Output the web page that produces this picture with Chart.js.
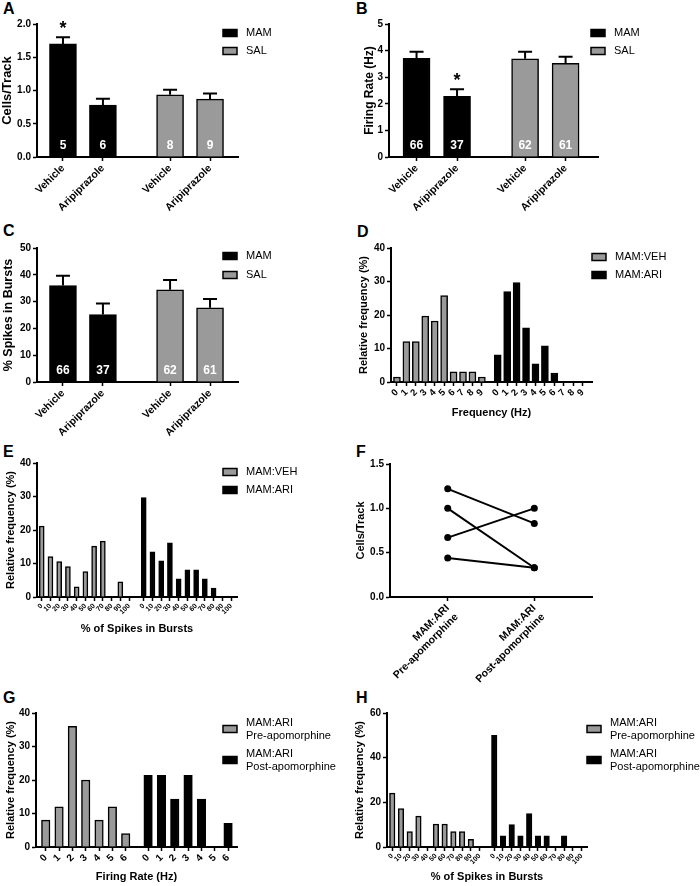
<!DOCTYPE html>
<html>
<head>
<meta charset="utf-8">
<script src="https://cdn.jsdelivr.net/npm/chart.js@4.4.1/dist/chart.umd.min.js"></script>
<style>
  body { margin: 0; background: #fff; width: 700px; height: 886px; position: relative; overflow: hidden; font-family: "Liberation Sans", Arial, sans-serif; }
  canvas { position: absolute; }
  .tag { position: absolute; font-weight: bold; font-size: 16px; line-height: 1; }
</style>
</head>
<body>
<div class="tag" style="left:3px;top:1px">A</div>
<div class="tag" style="left:356px;top:1px">B</div>
<div class="tag" style="left:3px;top:223px">C</div>
<div class="tag" style="left:357px;top:224px">D</div>
<div class="tag" style="left:3px;top:444px">E</div>
<div class="tag" style="left:356px;top:444px">F</div>
<div class="tag" style="left:3px;top:690px">G</div>
<div class="tag" style="left:356px;top:690px">H</div>

<canvas id="chartA" width="350" height="220" style="left:0;top:0"></canvas>
<canvas id="chartB" width="350" height="220" style="left:350px;top:0"></canvas>
<canvas id="chartC" width="350" height="220" style="left:0;top:220px"></canvas>
<canvas id="chartD" width="350" height="220" style="left:350px;top:220px"></canvas>
<canvas id="chartE" width="350" height="220" style="left:0;top:440px"></canvas>
<canvas id="chartF" width="350" height="250" style="left:350px;top:440px"></canvas>
<canvas id="chartG" width="350" height="226" style="left:0;top:660px"></canvas>
<canvas id="chartH" width="350" height="226" style="left:350px;top:660px"></canvas>

<script>
const FONT = '"Liberation Sans", Arial, sans-serif';
const BLACK = '#000000';
const GREY = '#9a9a9a';
const GROUP_GAP = 0.68;

// A-C: group means
const treatments = ['Vehicle', 'Aripiprazole'];
const cellsMAM = [1.70, 0.78];
const cellsMAMErr = [0.10, 0.095];
const cellsSAL = [0.935, 0.87];
const cellsSALErr = [0.075, 0.085];
const cellsMAMn = [5, 6];
const cellsSALn = [8, 9];
const cellsMAMsig = ['*', ''];

const rateMAM = [3.71, 2.28];
const rateMAMErr = [0.25, 0.27];
const rateSAL = [3.69, 3.52];
const rateSALErr = [0.27, 0.25];
const rateMAMn = [66, 37];
const rateSALn = [62, 61];
const rateMAMsig = ['', '*'];

const burstMAM = [36.0, 25.2];
const burstMAMErr = [3.6, 4.1];
const burstSAL = [34.4, 27.7];
const burstSALErr = [3.7, 3.3];
const burstMAMn = [66, 37];
const burstSALn = [62, 61];

// D: firing frequency histogram
const freqBins = ['0', '1', '2', '3', '4', '5', '6', '7', '8', '9'];
const freqVEH = [1.5, 12.1, 12.1, 19.7, 18.2, 25.8, 3.0, 3.0, 3.0, 1.5];
const freqARI = [8.1, 27.0, 29.7, 16.2, 5.4, 10.8, 2.7, 0, 0, 0];

// E: % spikes in bursts histogram
const burstBins = ['0', '10', '20', '30', '40', '50', '60', '70', '80', '90', '100'];
const burstVEH = [21.2, 12.1, 10.6, 9.1, 3.0, 7.6, 15.2, 16.7, 0, 4.5, 0];
const burstARI = [29.7, 13.5, 10.8, 16.2, 5.4, 8.1, 8.1, 5.4, 2.7, 0, 0];

// F: paired cells/track
const apoConditions = [['MAM:ARI', 'Pre-apomorphine'], ['MAM:ARI', 'Post-apomorphine']];
const cellsPre = [1.22, 1.0, 0.67, 0.44];
const cellsPost = [0.83, 0.33, 1.0, 0.33];

// G: firing rate histogram pre/post apomorphine
const rateBins = ['0', '1', '2', '3', '4', '5', '6'];
const ratePre = [8, 12, 36, 20, 8, 12, 4];
const ratePost = [21.4, 21.4, 14.3, 21.4, 14.3, 0, 7.1];

// H: % spikes in bursts pre/post apomorphine
const apoBurstPre = [24.1, 17.2, 6.9, 13.8, 0, 10.3, 10.3, 6.9, 6.9, 3.4, 0];
const apoBurstPost = [50, 5, 10, 5, 15, 5, 5, 0, 5, 0, 0];

const preLabel = ['MAM:ARI', 'Pre-apomorphine'];
const postLabel = ['MAM:ARI', 'Post-apomorphine'];

Chart.defaults.font.family = FONT;
Chart.defaults.color = '#000';
Chart.defaults.animation = false;
Chart.defaults.plugins.legend.display = false;
Chart.defaults.plugins.tooltip.enabled = false;

// error bars, n inside bars, significance marks
const barExtras = {
  id: 'barExtras',
  afterDatasetsDraw(chart) {
    const { ctx } = chart;
    const y = chart.scales.y;
    ctx.save();
    chart.data.datasets.forEach((ds, di) => {
      if (!ds.errors) return;
      chart.getDatasetMeta(di).data.forEach((bar, i) => {
        const top = y.getPixelForValue(ds.data[i].y + ds.errors[i]);
        ctx.strokeStyle = '#000';
        ctx.lineWidth = 2;
        ctx.beginPath();
        ctx.moveTo(bar.x, bar.y);
        ctx.lineTo(bar.x, top);
        ctx.moveTo(bar.x - 7, top);
        ctx.lineTo(bar.x + 7, top);
        ctx.stroke();
        ctx.textAlign = 'center';
        ctx.textBaseline = 'middle';
        if (ds.counts) {
          ctx.fillStyle = '#fff';
          ctx.font = 'bold 12px ' + FONT;
          ctx.fillText(ds.counts[i], bar.x, y.bottom - 11);
        }
        if (ds.marks && ds.marks[i]) {
          ctx.fillStyle = '#000';
          ctx.font = 'bold 18px ' + FONT;
          ctx.fillText(ds.marks[i], bar.x, top - 8);
        }
      });
    });
    ctx.restore();
  },
};

// legend drawn at a fixed spot beside the plot
const boxLegend = {
  id: 'boxLegend',
  afterDraw(chart, args, opts) {
    if (!opts || opts.x === undefined) return;
    const { ctx } = chart;
    ctx.save();
    ctx.font = '11px ' + FONT;
    ctx.textBaseline = 'middle';
    ctx.textAlign = 'left';
    chart.data.datasets.forEach((ds, i) => {
      const cy = opts.y + i * opts.step;
      ctx.fillStyle = ds.backgroundColor;
      ctx.fillRect(opts.x, cy - 3.5, 14, 7);
      ctx.strokeStyle = '#000';
      ctx.lineWidth = 1.5;
      ctx.strokeRect(opts.x, cy - 3.5, 14, 7);
      const lines = [].concat(ds.label);
      ctx.fillStyle = '#000';
      lines.forEach((t, k) => {
        ctx.fillText(t, opts.x + 23, cy + (k - (lines.length - 1) / 2) * opts.lineStep);
      });
    });
    ctx.restore();
  },
};

Chart.register(barExtras, boxLegend);

function slotPositions(count, groups, offset) {
  const pos = [];
  for (let g = 0; g < groups; g++) {
    for (let i = 0; i < count; i++) pos.push(offset + g * (count + GROUP_GAP) + i);
  }
  return pos;
}

const axisGrid = {
  display: true, offset: false, drawOnChartArea: false, drawTicks: true,
  tickLength: 4, tickWidth: 1.5, tickColor: '#000',
};
const axisBorder = { display: true, color: '#000', width: 2 };

function panel(id, type, datasets, o) {
  const canvas = document.getElementById(id);
  return new Chart(canvas, {
    type,
    data: { datasets },
    options: {
      responsive: false,
      animation: false,
      layout: { padding: { left: o.padL, right: canvas.width - o.R, top: o.T, bottom: canvas.height - o.B - o.xHeight } },
      scales: {
        x: {
          type: 'linear', min: 0, max: o.xMax, offset: false,
          afterBuildTicks: (s) => { s.ticks = o.xPos.map((v) => ({ value: v })); },
          afterFit: (s) => { s.height = o.xHeight; },
          ticks: {
            autoSkip: false, minRotation: 45, maxRotation: 45, padding: 1,
            font: { size: o.xFont, weight: 'bold' },
            callback: (v, i) => o.xLabels[i],
          },
          grid: axisGrid,
          border: axisBorder,
          title: o.xTitle
            ? { display: true, text: o.xTitle, font: { size: 11, weight: 'bold' }, padding: 0 }
            : { display: false },
        },
        y: {
          min: 0, max: o.yMax,
          afterFit: (s) => { s.width = o.L - o.padL; },
          ticks: {
            stepSize: o.yStep, padding: 2,
            font: { size: 10, weight: 'bold' },
            callback: o.yFmt || ((v) => v),
          },
          grid: axisGrid,
          border: axisBorder,
          title: { display: true, text: o.yTitle, font: { size: o.yTitleSize || 11, weight: 'bold' }, padding: 0 },
        },
      },
      plugins: { boxLegend: o.legend || false },
    },
  });
}

function barSet(label, values, positions, color, thickness, extra) {
  return Object.assign({
    label,
    data: values.map((v, i) => ({ x: positions[i], y: v })),
    backgroundColor: color,
    borderColor: '#000',
    borderWidth: 1.5,
    barThickness: thickness,
    grouped: false,
  }, extra || {});
}

const fixed1 = (v) => v.toFixed(1);

// A
{
  const pos = slotPositions(2, 2, 0.65);
  panel('chartA', 'bar', [
    barSet('MAM', cellsMAM, pos.slice(0, 2), BLACK, 27, { errors: cellsMAMErr, counts: cellsMAMn, marks: cellsMAMsig }),
    barSet('SAL', cellsSAL, pos.slice(2), GREY, 27, { errors: cellsSALErr, counts: cellsSALn }),
  ], {
    L: 37, R: 238, T: 24, B: 157, padL: 0, xHeight: 63, xMax: 5.03,
    xPos: pos, xLabels: treatments.concat(treatments), xFont: 10.5,
    yMax: 2, yStep: 0.5, yFmt: fixed1, yTitle: 'Cells/Track', yTitleSize: 13,
    legend: { x: 223, y: 33, step: 18, lineStep: 13 },
  });
}

// B
{
  const pos = slotPositions(2, 2, 0.68);
  panel('chartB', 'bar', [
    barSet('MAM', rateMAM, pos.slice(0, 2), BLACK, 27, { errors: rateMAMErr, counts: rateMAMn, marks: rateMAMsig }),
    barSet('SAL', rateSAL, pos.slice(2), GREY, 27, { errors: rateSALErr, counts: rateSALn }),
  ], {
    L: 39, R: 248, T: 24, B: 157, padL: 12, xHeight: 63, xMax: 5.16,
    xPos: pos, xLabels: treatments.concat(treatments), xFont: 10.5,
    yMax: 5, yStep: 1, yTitle: 'Firing Rate (Hz)', yTitleSize: 12,
    legend: { x: 241, y: 33, step: 18, lineStep: 13 },
  });
}

// C
{
  const pos = slotPositions(2, 2, 0.65);
  panel('chartC', 'bar', [
    barSet('MAM', burstMAM, pos.slice(0, 2), BLACK, 27, { errors: burstMAMErr, counts: burstMAMn }),
    barSet('SAL', burstSAL, pos.slice(2), GREY, 27, { errors: burstSALErr, counts: burstSALn }),
  ], {
    L: 37, R: 238, T: 28, B: 162, padL: 1.5, xHeight: 58, xMax: 5.03,
    xPos: pos, xLabels: treatments.concat(treatments), xFont: 10.5,
    yMax: 50, yStep: 10, yTitle: '% Spikes in Bursts', yTitleSize: 12.5,
    legend: { x: 223, y: 36, step: 19, lineStep: 13 },
  });
}

// D
{
  const pos = slotPositions(freqBins.length, 2, 0.63);
  const n = freqBins.length;
  panel('chartD', 'bar', [
    barSet('MAM:VEH', freqVEH, pos.slice(0, n), GREY, 7),
    barSet('MAM:ARI', freqARI, pos.slice(n), BLACK, 7),
  ], {
    L: 41, R: 242, T: 28, B: 162, padL: 7, xHeight: 37.6, xMax: 21.3,
    xPos: pos, xLabels: freqBins.concat(freqBins), xFont: 9.5, xTitle: 'Frequency (Hz)',
    yMax: 40, yStep: 10, yTitle: 'Relative frequency (%)',
    legend: { x: 242, y: 37, step: 18, lineStep: 13 },
  });
}

// E
{
  const pos = slotPositions(burstBins.length, 2, 0.54);
  const n = burstBins.length;
  panel('chartE', 'bar', [
    barSet('MAM:VEH', burstVEH, pos.slice(0, n), GREY, 5),
    barSet('MAM:ARI', burstARI, pos.slice(n), BLACK, 5),
  ], {
    L: 37, R: 237, T: 23, B: 157, padL: 4, xHeight: 38.6, xMax: 22.9,
    xPos: pos, xLabels: burstBins.concat(burstBins), xFont: 7, xTitle: '% of Spikes in Bursts',
    yMax: 40, yStep: 10, yTitle: 'Relative frequency (%)',
    legend: { x: 223, y: 32, step: 18, lineStep: 13 },
  });
}

// F
{
  const pos = [1, 2.5];
  const sets = cellsPre.map((v, i) => ({
    label: 'Subject ' + (i + 1),
    data: [{ x: pos[0], y: v }, { x: pos[1], y: cellsPost[i] }],
    borderColor: '#000',
    backgroundColor: '#000',
    borderWidth: 2,
    pointRadius: 3.5,
    pointBorderWidth: 0,
    pointBackgroundColor: '#000',
  }));
  panel('chartF', 'line', sets, {
    L: 40, R: 242, T: 24, B: 157, padL: 4, xHeight: 93, xMax: 3.5,
    xPos: pos, xLabels: apoConditions, xFont: 10.5,
    yMax: 1.5, yStep: 0.5, yFmt: fixed1, yTitle: 'Cells/Track',
  });
}

// G
{
  const pos = slotPositions(rateBins.length, 2, 0.73);
  const n = rateBins.length;
  panel('chartG', 'bar', [
    barSet(preLabel, ratePre, pos.slice(0, n), GREY, 8.5),
    barSet(postLabel, ratePost, pos.slice(n), BLACK, 8.5),
  ], {
    L: 36, R: 237, T: 53, B: 187, padL: 4, xHeight: 36.6, xMax: 15.08,
    xPos: pos, xLabels: rateBins.concat(rateBins), xFont: 10, xTitle: 'Firing Rate (Hz)',
    yMax: 40, yStep: 10, yTitle: 'Relative frequency (%)',
    legend: { x: 223, y: 69, step: 31, lineStep: 13 },
  });
}

// H
{
  const pos = slotPositions(burstBins.length, 2, 0.6);
  const n = burstBins.length;
  panel('chartH', 'bar', [
    barSet(preLabel, apoBurstPre, pos.slice(0, n), GREY, 5.5),
    barSet(postLabel, apoBurstPost, pos.slice(n), BLACK, 5.5),
  ], {
    L: 37, R: 237, T: 53, B: 187, padL: 3, xHeight: 36.6, xMax: 22.9,
    xPos: pos, xLabels: burstBins.concat(burstBins), xFont: 7, xTitle: '% of Spikes in Bursts',
    yMax: 60, yStep: 20, yTitle: 'Relative frequency (%)',
    legend: { x: 237, y: 69, step: 31, lineStep: 13 },
  });
}
</script>
</body>
</html>
